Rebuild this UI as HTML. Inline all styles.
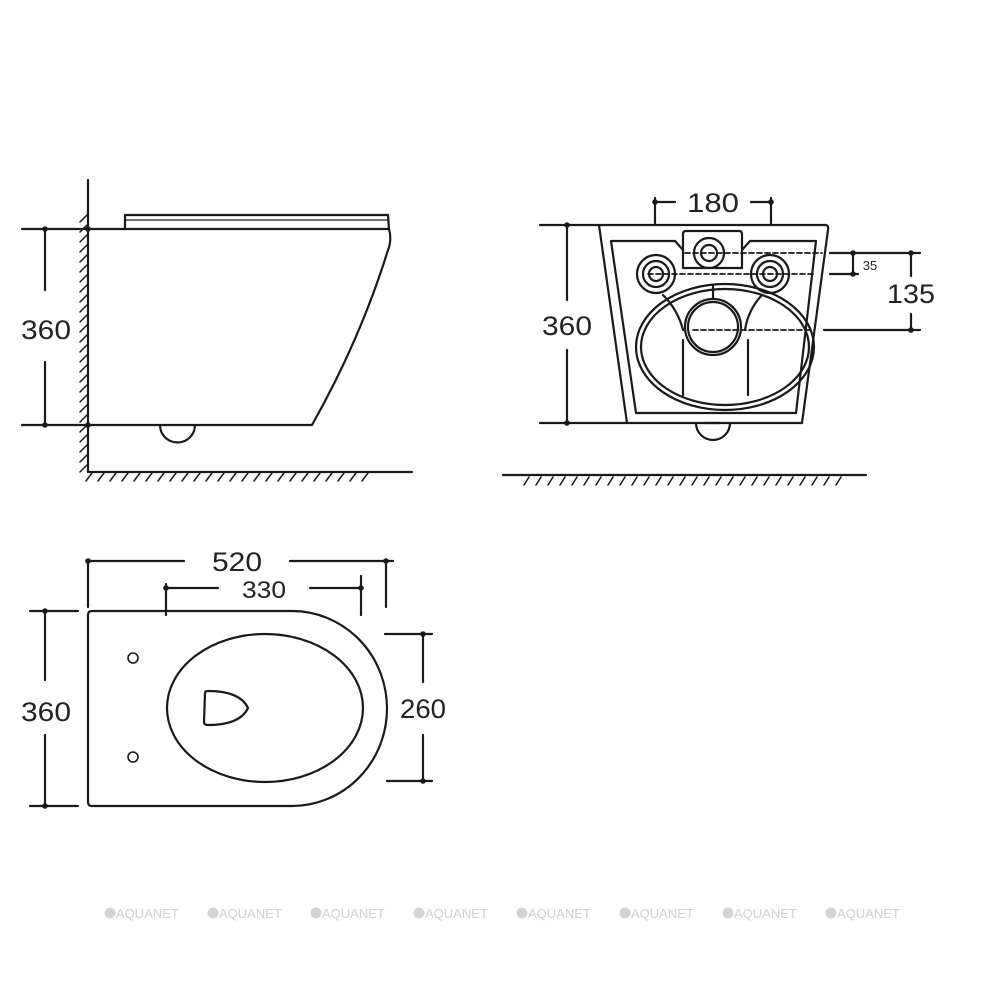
<!DOCTYPE html>
<html><head><meta charset="utf-8"><style>
html,body{margin:0;padding:0;background:#fff;}
svg{display:block}
text{font-family:"Liberation Sans",sans-serif;fill:#222}
</style></head><body>
<svg width="1000" height="1000" viewBox="0 0 1000 1000" xmlns="http://www.w3.org/2000/svg">
<defs>
<pattern id="hv" width="6" height="10" patternUnits="userSpaceOnUse"><line x1="0" y1="10" x2="6" y2="0" stroke="#222" stroke-width="1.6"/></pattern>
</defs>
<g fill="none" stroke="#1a1a1a" stroke-width="2.2" stroke-linecap="round" stroke-linejoin="round">
<!-- SIDE VIEW -->
<line x1="88" y1="180" x2="88" y2="472"/>
<line x1="88" y1="472" x2="412" y2="472"/>
<g stroke-width="1.5">
<path d="M80 222 l7 -7 M80 232 l7 -7 M80 242 l7 -7 M80 252 l7 -7 M80 262 l7 -7 M80 272 l7 -7 M80 282 l7 -7 M80 292 l7 -7 M80 302 l7 -7 M80 312 l7 -7 M80 322 l7 -7 M80 332 l7 -7 M80 342 l7 -7 M80 352 l7 -7 M80 362 l7 -7 M80 372 l7 -7 M80 382 l7 -7 M80 392 l7 -7 M80 402 l7 -7 M80 412 l7 -7 M80 422 l7 -7 M80 432 l7 -7 M80 442 l7 -7 M80 452 l7 -7 M80 462 l7 -7 M80 472 l7 -7"/>
<path d="M86 481 l6 -8 M98 481 l6 -8 M110 481 l6 -8 M122 481 l6 -8 M134 481 l6 -8 M146 481 l6 -8 M158 481 l6 -8 M170 481 l6 -8 M182 481 l6 -8 M194 481 l6 -8 M206 481 l6 -8 M218 481 l6 -8 M230 481 l6 -8 M242 481 l6 -8 M254 481 l6 -8 M266 481 l6 -8 M278 481 l6 -8 M290 481 l6 -8 M302 481 l6 -8 M314 481 l6 -8 M326 481 l6 -8 M338 481 l6 -8 M350 481 l6 -8 M362 481 l6 -8"/>
</g>
<path d="M125 229 L125 215 L388 215 L389 229"/>
<line x1="126" y1="220" x2="387" y2="220" stroke-width="1.3"/>
<path d="M88 229 L389 229 Q392 240 388 250 Q360 340 312 425 L88 425"/>
<path d="M160 425 A17 17 0 0 0 195 425"/>
<line x1="22" y1="229" x2="88" y2="229"/>
<line x1="22" y1="425" x2="88" y2="425"/>
<line x1="45" y1="229" x2="45" y2="290"/>
<line x1="45" y1="362" x2="45" y2="425"/>
<!-- FRONT VIEW -->
<path d="M599 225 L826 225 Q829 226 828 230 L802 423 L627 423 Z"/>
<path d="M611 241 L675 241 L683 250 L683 268 L742 268 L742 250 L750 241 L816 241 L796 413 L636 413 Z"/>
<path d="M683 250 L683 234 Q683 231 686 231 L739 231 Q742 231 742 234 L742 250"/>
<circle cx="709" cy="253" r="15"/><circle cx="709" cy="253" r="8"/>
<circle cx="656" cy="274" r="19"/><circle cx="656" cy="274" r="13"/><circle cx="656" cy="274" r="7"/>
<circle cx="770" cy="274" r="19"/><circle cx="770" cy="274" r="13"/><circle cx="770" cy="274" r="7"/>
<ellipse cx="725" cy="347" rx="89" ry="63"/>
<ellipse cx="725" cy="347" rx="84" ry="58"/>
<circle cx="713" cy="327" r="28"/><circle cx="713" cy="327" r="25"/>
<line x1="713" y1="286" x2="713" y2="299"/>
<path d="M683 340 L683 395 M748 340 L748 395"/>
<path d="M663 295 Q678 310 683 330 M762 295 Q748 310 745 330"/>
<line x1="705" y1="423" x2="720" y2="423"/>
<path d="M696 423 A17 17 0 0 0 730 423"/>
<g stroke-dasharray="5 3" stroke-width="1.8">
<line x1="685" y1="253" x2="822" y2="253"/>
<line x1="648" y1="274" x2="816" y2="274"/>
<line x1="693" y1="330" x2="812" y2="330"/>
</g>
<line x1="830" y1="253" x2="920" y2="253"/>
<line x1="830" y1="274" x2="858" y2="274"/>
<line x1="853" y1="253" x2="853" y2="274"/>
<line x1="824" y1="330" x2="920" y2="330"/>
<line x1="911" y1="253" x2="911" y2="276"/>
<line x1="911" y1="314" x2="911" y2="330"/>
<line x1="655" y1="198" x2="655" y2="224"/>
<line x1="771" y1="198" x2="771" y2="224"/>
<line x1="655" y1="202" x2="675" y2="202"/>
<line x1="751" y1="202" x2="771" y2="202"/>
<line x1="540" y1="225" x2="599" y2="225"/>
<line x1="540" y1="423" x2="627" y2="423"/>
<line x1="567" y1="225" x2="567" y2="300"/>
<line x1="567" y1="350" x2="567" y2="423"/>
<line x1="503" y1="475" x2="866" y2="475"/>
<path stroke-width="1.5" d="M524 485 l5 -8 M536 485 l5 -8 M548 485 l5 -8 M560 485 l5 -8 M572 485 l5 -8 M584 485 l5 -8 M596 485 l5 -8 M608 485 l5 -8 M620 485 l5 -8 M632 485 l5 -8 M644 485 l5 -8 M656 485 l5 -8 M668 485 l5 -8 M680 485 l5 -8 M692 485 l5 -8 M704 485 l5 -8 M716 485 l5 -8 M728 485 l5 -8 M740 485 l5 -8 M752 485 l5 -8 M764 485 l5 -8 M776 485 l5 -8 M788 485 l5 -8 M800 485 l5 -8 M812 485 l5 -8 M824 485 l5 -8 M836 485 l5 -8"/>
<!-- TOP VIEW -->
<path d="M92 611 L292 611 A95 97.5 0 0 1 292 806 L92 806 Q88 806 88 802 L88 615 Q88 611 92 611 Z"/>
<ellipse cx="265" cy="708" rx="98" ry="74"/>
<circle cx="133" cy="658" r="5" stroke-width="1.6"/>
<circle cx="133" cy="757" r="5" stroke-width="1.6"/>
<path d="M205 693 Q205 691 208 691 Q240 691 248 708 Q240 725 208 725 Q204 725 204 722 Z"/>
<line x1="88" y1="561" x2="184" y2="561"/>
<line x1="290" y1="561" x2="393" y2="561"/>
<line x1="88" y1="561" x2="88" y2="607"/>
<line x1="386" y1="561" x2="386" y2="607"/>
<line x1="166" y1="588" x2="218" y2="588"/>
<line x1="310" y1="588" x2="361" y2="588"/>
<line x1="166" y1="584" x2="166" y2="615"/>
<line x1="361" y1="576" x2="361" y2="615"/>
<line x1="30" y1="611" x2="78" y2="611"/>
<line x1="30" y1="806" x2="78" y2="806"/>
<line x1="45" y1="611" x2="45" y2="680"/>
<line x1="45" y1="735" x2="45" y2="806"/>
<line x1="385" y1="634" x2="432" y2="634"/>
<line x1="387" y1="781" x2="432" y2="781"/>
<line x1="423" y1="634" x2="423" y2="682"/>
<line x1="423" y1="735" x2="423" y2="781"/>
</g>
<g fill="#1a1a1a">
<circle cx="45" cy="229" r="2.8"/><circle cx="45" cy="425" r="2.8"/><circle cx="88" cy="229" r="2.8"/><circle cx="88" cy="425" r="2.8"/>
<circle cx="567" cy="225" r="2.8"/><circle cx="567" cy="423" r="2.8"/>
<circle cx="655" cy="202" r="2.8"/><circle cx="771" cy="202" r="2.8"/>
<circle cx="853" cy="253" r="2.8"/><circle cx="853" cy="274" r="2.8"/>
<circle cx="911" cy="253" r="2.8"/><circle cx="911" cy="330" r="2.8"/>
<circle cx="88" cy="561" r="2.8"/><circle cx="386" cy="561" r="2.8"/>
<circle cx="166" cy="588" r="2.8"/><circle cx="361" cy="588" r="2.8"/>
<circle cx="45" cy="611" r="2.8"/><circle cx="45" cy="806" r="2.8"/>
<circle cx="423" cy="634" r="2.8"/><circle cx="423" cy="781" r="2.8"/>
</g>
<g font-size="27" text-anchor="middle">
<text x="46" y="339" textLength="50" lengthAdjust="spacingAndGlyphs">360</text>
<text x="567" y="335" textLength="50" lengthAdjust="spacingAndGlyphs">360</text>
<text x="713" y="212" textLength="52" lengthAdjust="spacingAndGlyphs">180</text>
<text x="911" y="303" textLength="48" lengthAdjust="spacingAndGlyphs">135</text>
<text x="237" y="571" textLength="50" lengthAdjust="spacingAndGlyphs">520</text>
<text x="264" y="598" font-size="24" textLength="44" lengthAdjust="spacingAndGlyphs">330</text>
<text x="46" y="721" textLength="50" lengthAdjust="spacingAndGlyphs">360</text>
<text x="423" y="718" textLength="46" lengthAdjust="spacingAndGlyphs">260</text>
<text x="870" y="270" font-size="13">35</text>
</g>
<g font-size="13" fill="#d0d0d0">
<g fill="#d4d4d4"><circle cx="110" cy="913" r="5.5"/><circle cx="213" cy="913" r="5.5"/><circle cx="316" cy="913" r="5.5"/><circle cx="419" cy="913" r="5.5"/><circle cx="522" cy="913" r="5.5"/><circle cx="625" cy="913" r="5.5"/><circle cx="728" cy="913" r="5.5"/><circle cx="831" cy="913" r="5.5"/></g>
<text x="116" y="918" style="fill:#d0d0d0">AQUANET</text>
<text x="219" y="918" style="fill:#d0d0d0">AQUANET</text>
<text x="322" y="918" style="fill:#d0d0d0">AQUANET</text>
<text x="425" y="918" style="fill:#d0d0d0">AQUANET</text>
<text x="528" y="918" style="fill:#d0d0d0">AQUANET</text>
<text x="631" y="918" style="fill:#d0d0d0">AQUANET</text>
<text x="734" y="918" style="fill:#d0d0d0">AQUANET</text>
<text x="837" y="918" style="fill:#d0d0d0">AQUANET</text>
</g>
</svg>
</body></html>
